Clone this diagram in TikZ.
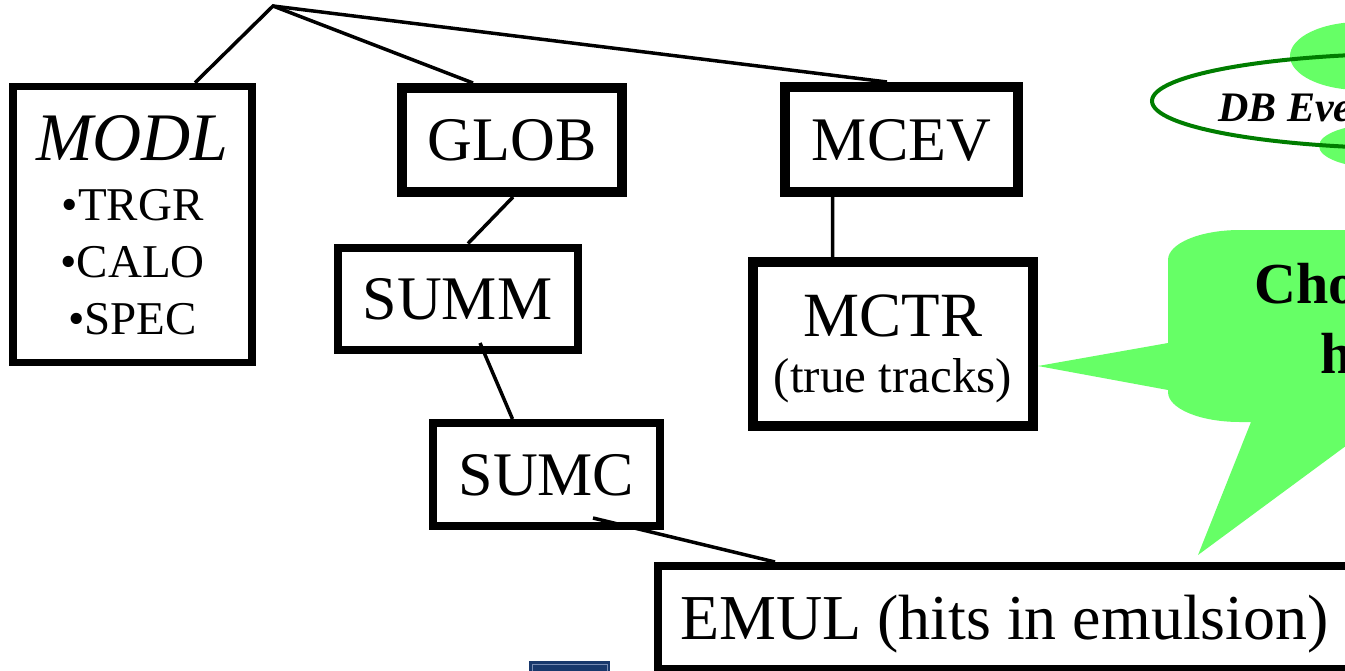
\documentclass[tikz,border=0pt]{standalone}
\usepackage{xcolor}
\usepackage{fontspec}
\setmainfont{Liberation Serif}
\usepackage{tikz}
\usetikzlibrary{shapes,calc}
\definecolor{callgreen}{RGB}{102,255,102}
\definecolor{dbgreen}{RGB}{0,125,0}
\definecolor{navyblue}{RGB}{24,56,108}
\definecolor{navyedge}{RGB}{120,140,180}
\tikzstyle{bank} = [rectangle, draw=black, line width=8pt, inner sep=0pt, text centered, text depth=0pt, font=\fontsize{62}{62}\selectfont]
\tikzstyle{bigbank} = [bank, line width=10pt]
\tikzstyle{calltext} = [anchor=base west, inner sep=0pt, font=\fontsize{58}{58}\selectfont\bfseries]
\tikzstyle{link} = [line width=3.5pt]

\begin{document}
\begin{tikzpicture}[x=1pt,y=-1pt]
					\useasboundingbox (0,0) rectangle (1345,670);
					\clip (0,0) rectangle (1345,670);
					% DB event cloud at the top right
					\fill [callgreen] (1360,56) ellipse [x radius=70, y radius=34];
					\fill [callgreen] (1380,146) ellipse [x radius=61, y radius=22];
					\node (dbev) [ellipse, draw=dbgreen, line width=4pt, minimum width=536pt, minimum height=95pt, inner sep=0pt] at (1420,101) {};
					\node (dbtext) [anchor=base west, inner sep=0pt, font=\fontsize{42}{42}\selectfont\bfseries\itshape] at (1218,121) {DB Eve};
					% callout
					\fill [callgreen] (1400,230) -- (1240,230) .. controls (1200,230) and (1168,243.4) .. (1168,260) -- (1168,343) -- (1038,366) -- (1168,390) -- (1168,392) .. controls (1168,408.6) and (1200,422) .. (1240,422) -- (1251,422) -- (1198,555) -- (1400,406) -- cycle;
					\node (call1) [calltext] at (1254,303) {Cho};
					\node (call2) [calltext] at (1320,373) {h};
					% banks
					\node (modl) [bank, line width=7.5pt, minimum width=239pt, minimum height=276pt, align=center, font=\fontsize{47}{57}\selectfont] at (132.5,224.5) {{\fontsize{68}{68}\selectfont\itshape MODL}\\[3pt]•TRGR\\•CALO\\•SPEC};
					\node (glob) [bigbank, minimum width=220pt, minimum height=104pt] at (512,140) {GLOB};
					\node (summ) [bank, minimum width=240pt, minimum height=102pt] at (457.5,298.5) {SUMM};
					\node (sumc) [bank, minimum width=227pt, minimum height=103pt] at (546.5,474.5) {SUMC};
					\node (mcev) [bigbank, minimum width=233pt, minimum height=105pt] at (901.5,139.5) {MCEV};
					\node (mctr) [bigbank, minimum width=280pt, minimum height=164.5pt, align=center, font=\fontsize{63}{56}\selectfont] at (893,344) {MCTR\\{\fontsize{49}{56}\selectfont(true tracks)}};
					\node (emul) [bank, anchor=north west, inner xsep=22.5pt, minimum height=103pt, font=\fontsize{64}{64}\selectfont] at (653.5,562) {EMUL (hits in emulsion)};
					\fill [navyblue] (529,661) rectangle (610,680);
					\draw [navyedge, line width=1pt] (532,664) rectangle (607,690);
	
					\coordinate (root) at (273,6);
					\draw [link] ([xshift=62.5pt]modl.north) -- (root) -- ([xshift=-39pt]glob.north);
					\draw [link] (root) -- ([xshift=-14.5pt]mcev.north);
					\draw [link] ([xshift=1pt]glob.south) -- ([xshift=10.5pt]summ.north);
					\draw [link] ([xshift=22.5pt,yshift=10.5pt]summ.south) -- ([xshift=-34pt]sumc.north);
					\draw [link] ([xshift=46.5pt,yshift=12pt]sumc.south) -- ([xshift=121.5pt]emul.north west);
					\draw [link] ([xshift=-69pt]mcev.south) -- ([xshift=-60.3pt]mctr.north);
			\end{tikzpicture}
\end{document}
